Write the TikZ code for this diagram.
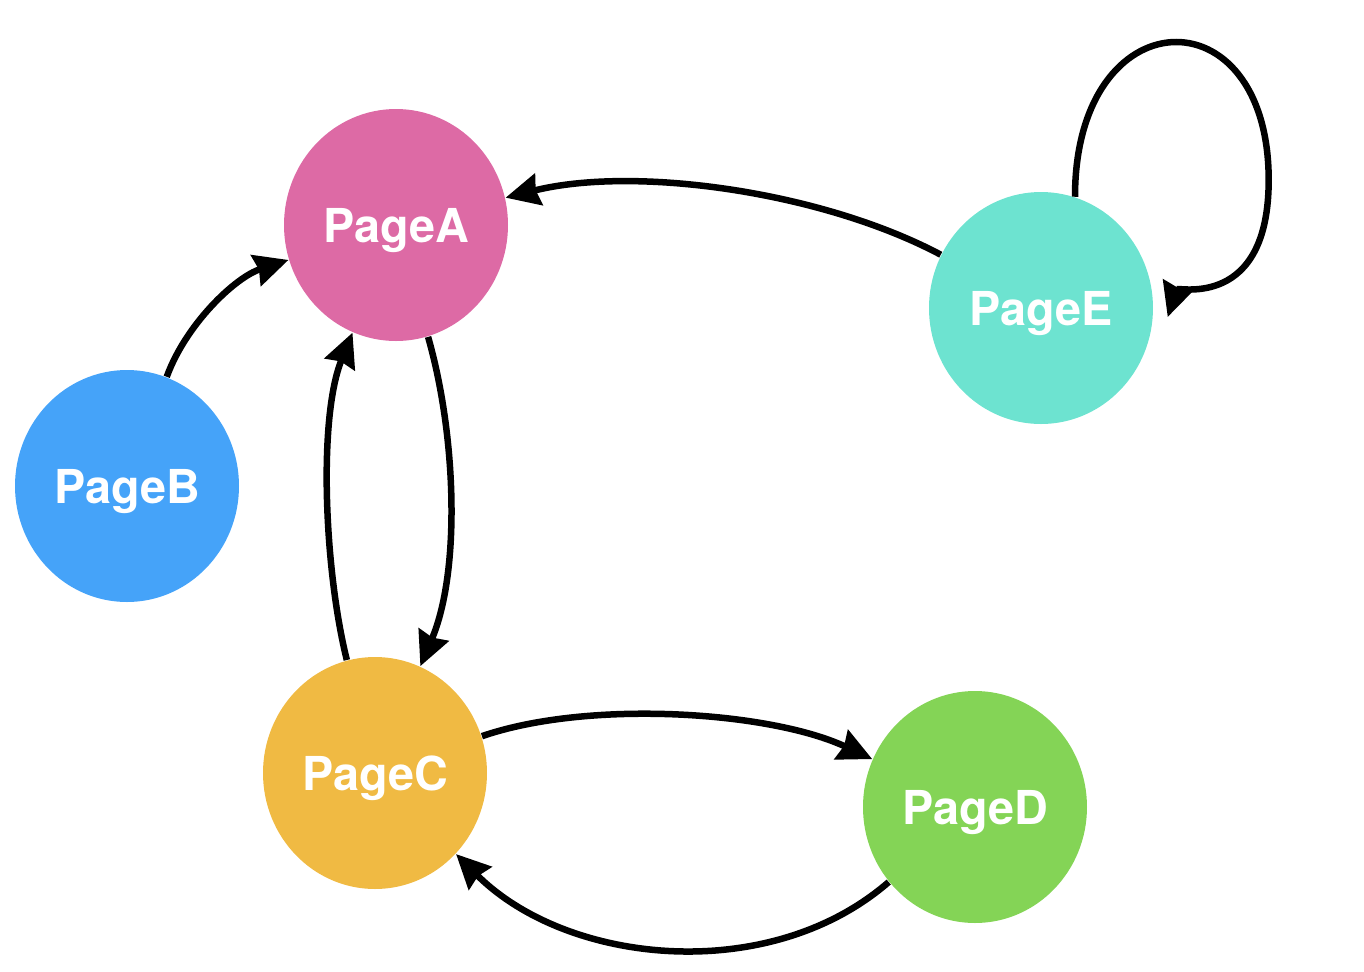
\documentclass[tikz,border=0pt]{standalone}
\usepackage{fontspec}
\setmainfont{TeX Gyre Heros}
\usepackage{xcolor}
\usepackage{tikz}
\usetikzlibrary{arrows.meta,shapes.geometric}
\definecolor{rose}{HTML}{DD6AA5}
\definecolor{azure}{HTML}{45A3F9}
\definecolor{amber}{HTML}{F0BA43}
\definecolor{leaf}{HTML}{84D456}
\definecolor{aqua}{HTML}{6DE3D0}
\tikzset{
  page/.style={ellipse, minimum width=2.24cm, minimum height=2.32cm, inner sep=0pt,
    text=white, text depth=0pt, font=\bfseries\fontsize{13.3}{15}\selectfont},
  link/.style={-{Stealth[length=0.34cm,width=0.32cm,inset=0.03cm]}, line width=0.065cm, draw=black}
}

\begin{document}
\begin{tikzpicture}
  \useasboundingbox (0,0) rectangle (13.64,-9.72);

  \node[page, fill=rose]  (pageA) at (3.96,-2.25) {PageA};
  \node[page, fill=azure] (pageB) at (1.27,-4.86) {PageB};
  \node[page, fill=amber] (pageC) at (3.75,-7.73) {PageC};
  \node[page, fill=leaf]  (pageD) at (9.75,-8.07) {PageD};
  \node[page, fill=aqua]  (pageE) at (10.41,-3.08) {PageE};

  \draw[link] (pageB) to[out=70, in=198, looseness=0.85] (pageA);
  \draw[link] (pageA) to[out=-74, in=67, looseness=0.8] (pageC);
  \draw[link] (pageC) to[out=104, in=248, looseness=0.72] (pageA);
  \draw[link] (pageE) to[out=152, in=14, looseness=0.78] (pageA);
  \draw[link] (pageC) to[out=19, in=155, looseness=0.74] (pageD);
  \draw[link] (pageD) to[out=221, in=-45, looseness=0.93] (pageC);

  % self loop on PageE
  \coordinate (loopR) at ([shift={(1.15,1.28)}]pageE.east);
  \coordinate (loopEnd) at ([shift={(0.14,-0.09)}]pageE.east);
  \draw[link] (pageE.73) .. controls +(0,2.0) and +(0,1.9) .. (loopR)
    .. controls +(0,-1.3) and +(0.10,0.30) .. (loopEnd);
\end{tikzpicture}
\end{document}
